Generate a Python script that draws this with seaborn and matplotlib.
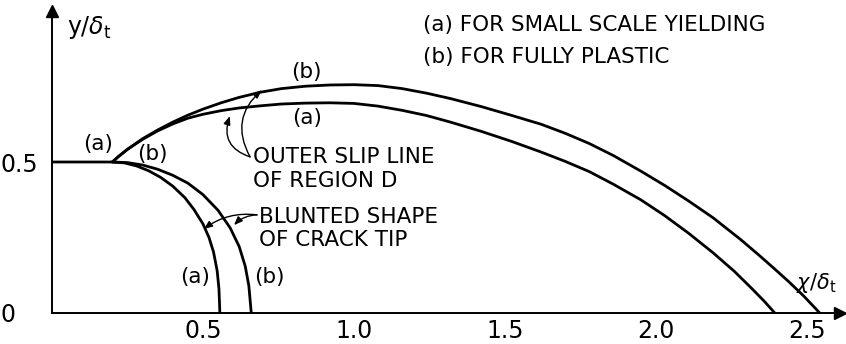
import matplotlib
matplotlib.use("Agg")
import matplotlib.pyplot as plt
import seaborn as sns
import pandas as pd

# Outer slip line of region D, (a) small scale yielding / (b) fully plastic
slip_a_x = [0.20, 0.22, 0.25, 0.30, 0.35, 0.40, 0.45, 0.50, 0.56, 0.62, 0.69, 0.76,
            0.84, 0.92, 1.00, 1.08, 1.16, 1.24, 1.32, 1.42, 1.52, 1.62, 1.70, 1.78,
            1.86, 1.95, 2.03, 2.11, 2.19, 2.26, 2.32, 2.36, 2.394]
slip_a_y = [0.500, 0.518, 0.542, 0.575, 0.603, 0.626, 0.645, 0.658, 0.670, 0.679, 0.686, 0.692,
            0.695, 0.696, 0.694, 0.685, 0.671, 0.654, 0.632, 0.602, 0.569, 0.533, 0.502, 0.468,
            0.426, 0.375, 0.322, 0.263, 0.199, 0.138, 0.079, 0.038, 0.0]
slip_b_x = [0.20, 0.22, 0.25, 0.30, 0.35, 0.40, 0.45, 0.50, 0.56, 0.62, 0.69, 0.76,
            0.84, 0.92, 1.00, 1.08, 1.16, 1.24, 1.32, 1.42, 1.52, 1.62, 1.70, 1.78,
            1.86, 1.95, 2.03, 2.11, 2.19, 2.28, 2.34, 2.39, 2.44, 2.49, 2.543]
slip_b_y = [0.500, 0.518, 0.542, 0.577, 0.606, 0.632, 0.655, 0.675, 0.696, 0.714, 0.731, 0.743,
            0.751, 0.755, 0.756, 0.753, 0.743, 0.728, 0.710, 0.684, 0.655, 0.625, 0.595, 0.561,
            0.521, 0.470, 0.422, 0.370, 0.315, 0.244, 0.193, 0.149, 0.104, 0.056, 0.0]

# Blunted shape of crack tip
tip_a_x = [0.0, 0.20, 0.24, 0.28, 0.32, 0.36, 0.40, 0.44, 0.47, 0.50, 0.52, 0.535,
           0.547, 0.553, 0.556]
tip_a_y = [0.5, 0.500, 0.497, 0.487, 0.471, 0.449, 0.420, 0.382, 0.343, 0.295, 0.250, 0.202,
           0.140, 0.080, 0.0]
tip_b_x = [0.20, 0.25, 0.30, 0.35, 0.40, 0.45, 0.50, 0.55, 0.59, 0.62, 0.64, 0.652, 0.66]
tip_b_y = [0.500, 0.498, 0.490, 0.476, 0.456, 0.430, 0.392, 0.340, 0.282, 0.220, 0.155,
           0.090, 0.0]

x_tick_values = [round(0.1 * i, 1) for i in range(1, 26)]
x_tick_labels = ["0.5", "1.0", "1.5", "2.0", "2.5"]
y_tick_values = [round(0.1 * i, 1) for i in range(0, 10)]
y_tick_labels = ["0", "0.5"]

sns.set_style("white")
plt.rcParams["font.family"] = ["DejaVu Sans"]
plt.rcParams["mathtext.fontset"] = "dejavusans"
plt.rcParams["text.color"] = "black"

fig = plt.figure(figsize=(8.46, 3.44), dpi=100)
ax = fig.add_axes([52 / 846, 31 / 344, 788 / 846, 302 / 344])

curves = [
    (slip_a_x, slip_a_y), (slip_b_x, slip_b_y),
    (tip_a_x, tip_a_y), (tip_b_x, tip_b_y),
]
for cx, cy in curves:
    df = pd.DataFrame({"x": cx, "y": cy})
    sns.lineplot(data=df, x="x", y="y", sort=False, estimator=None,
                 color="black", linewidth=2.0, ax=ax)
for ln in ax.lines:
    ln.set_solid_joinstyle("round")

ax.set_xlim(0, 2.61)
ax.set_ylim(0, 1.0)
ax.set_xlabel("")
ax.set_ylabel("")

for side in ("top", "right"):
    ax.spines[side].set_visible(False)
for side in ("left", "bottom"):
    ax.spines[side].set_linewidth(1.4)
    ax.spines[side].set_color("black")

# axis arrowheads
ax.plot(1, 0, marker=">", ms=9, color="black", transform=ax.get_yaxis_transform(), clip_on=False)
ax.plot(0, 1, marker="^", ms=9, color="black", transform=ax.get_xaxis_transform(), clip_on=False)

xl = ["" for _ in x_tick_values]
for lab in x_tick_labels:
    xl[x_tick_values.index(float(lab))] = lab
yl = ["" for _ in y_tick_values]
for lab in y_tick_labels:
    yl[y_tick_values.index(float(lab))] = lab

ax.set_xticks(x_tick_values)
ax.set_xticklabels(xl, fontsize=17)
ax.set_yticks(y_tick_values)
ax.set_yticklabels(yl, fontsize=17)
ax.tick_params(axis="x", direction="in", length=7, width=1.0, pad=4, colors="black")
ax.tick_params(axis="y", direction="in", length=8, width=1.0, pad=37, colors="black")
for t in ax.get_yticklabels():
    t.set_horizontalalignment("left")

txt = dict(fontsize=15.5, color="black")

ax.text(0.05, 0.944, r"$\mathregular{y/}\delta_\mathregular{t}$", ha="left", va="center", fontsize=17)
ax.text(2.465, 0.099, r"$\chi/\delta_\mathregular{t}$", ha="left", va="center", fontsize=15)

ax.text(1.228, 0.954, "(a) FOR SMALL SCALE YIELDING", ha="left", va="center", **txt)
ax.text(1.228, 0.848, "(b) FOR FULLY PLASTIC", ha="left", va="center", **txt)

ax.text(0.844, 0.798, "(b)", ha="center", va="center", **txt)
ax.text(0.844, 0.646, "(a)", ha="center", va="center", **txt)
ax.text(0.154, 0.561, "(a)", ha="center", va="center", **txt)
ax.text(0.331, 0.526, "(b)", ha="center", va="center", **txt)
ax.text(0.473, 0.119, "(a)", ha="center", va="center", **txt)
ax.text(0.719, 0.119, "(b)", ha="center", va="center", **txt)

ax.text(0.665, 0.477, "OUTER SLIP LINE\nOF REGION D", ha="left", va="center",
        linespacing=1.2, **txt)
ax.text(0.685, 0.279, "BLUNTED SHAPE\nOF CRACK TIP", ha="left", va="center",
        linespacing=1.2, **txt)

arrow = dict(arrowstyle="-|>,head_length=0.5,head_width=0.2", color="black", lw=1.0,
             shrinkA=0, shrinkB=0)
ax.annotate("", xy=(0.589, 0.652), xytext=(0.656, 0.517),
            arrowprops=dict(connectionstyle="arc3,rad=-0.5", **arrow))
ax.annotate("", xy=(0.695, 0.738), xytext=(0.656, 0.517),
            arrowprops=dict(connectionstyle="arc3,rad=-0.4", **arrow))
ax.annotate("", xy=(0.503, 0.278), xytext=(0.679, 0.325),
            arrowprops=dict(connectionstyle="arc3,rad=0.2", **arrow))
ax.annotate("", xy=(0.603, 0.291), xytext=(0.679, 0.325),
            arrowprops=dict(connectionstyle="arc3,rad=0.2", **arrow))

fig.savefig("out.png", dpi=100)
